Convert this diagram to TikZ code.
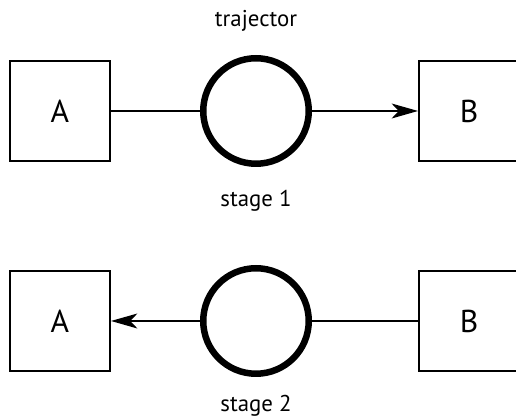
\documentclass[tikz,border=0pt]{standalone}
\usepackage{fontspec}
\setmainfont{PT Sans}
\usetikzlibrary{arrows.meta, positioning}

\begin{document}
\begin{tikzpicture}[
      box/.style={draw, line width=1.1pt, minimum width=2cm, minimum height=2cm,
                  font=\fontsize{18}{20}\selectfont},
      traj/.style={circle, draw, line width=3.7pt, minimum size=2.11cm, inner sep=0pt},
      lbl/.style={font=\fontsize{13}{15}\selectfont, anchor=base},
      link/.style={line width=1pt},
      arr/.style={link, -{Stealth[length=15pt, width=8.5pt, inset=4pt]}},
   ]
      \useasboundingbox (0,0) rectangle (10.32,-8.38);
      \clip (0,0) rectangle (10.32,-8.38);

      % stage 1: A -> B
      \node[lbl] (tr) at (5.12,-0.54) {trajector};
      \node[box] (a1) at (1.2,-2.22) {A};
      \node[traj] (c1) at (5.12,-2.22) {};
      \node[box] (b1) at (9.38,-2.22) {B};
      \node[lbl] (s1) at (5.12,-4.14) {stage 1};

      \draw[link] (a1) -- (c1);
      \draw[arr] (c1) -- (b1);

      % stage 2: B -> A
      \node[box] (a2) at (1.2,-6.42) {A};
      \node[traj] (c2) at (5.12,-6.42) {};
      \node[box] (b2) at (9.38,-6.42) {B};
      \node[lbl] (s2) at (5.12,-8.24) {stage 2};

      \draw[link] (b2) -- (c2);
      \draw[arr] (c2) -- (a2);
\end{tikzpicture}
\end{document}
